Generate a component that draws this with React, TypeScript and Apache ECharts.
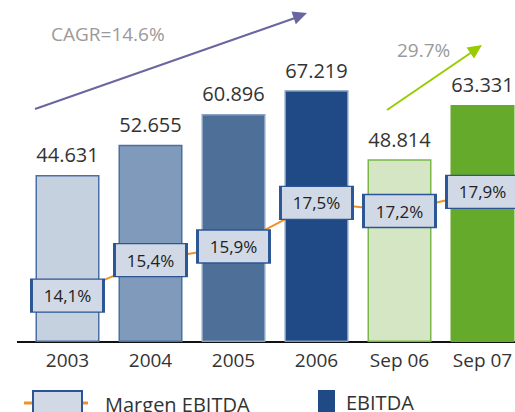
import React, { useEffect, useRef } from "react";
import * as echarts from "echarts";

const categories = ["2003", "2004", "2005", "2006", "Sep 06", "Sep 07"];
const ebitda = [44.631, 52.655, 60.896, 67.219, 48.814, 63.331];
const margen = [14.1, 15.4, 15.9, 17.5, 17.2, 17.9];
const cagrText = "CAGR=14.6%";
const growthText = "29.7%";

const barFills = ["#c6d1df", "#7f9aba", "#4e6f98", "#1f4a85", "#d4e6c3", "#66aa2c"];
const barBorders = ["#4a6fa5", "#4a6fa0", "#8aa3c2", "#7f9aba", "#7ab648", "#66aa2c"];

const FONT = "'Open Sans', 'Noto Sans', sans-serif";

export default function App() {
  const ref = useRef<HTMLDivElement>(null);
  useEffect(() => {
    if (!ref.current) return;
    const chart = echarts.init(ref.current, null, { renderer: "svg" });
    const orange = "#f0902a";
    const option: any = {
      animation: false,
      textStyle: { fontFamily: FONT },
      grid: { left: 26, width: 498, top: 20, bottom: 70, containLabel: false, outerBoundsMode: "none" },
      xAxis: {
        type: "category",
        data: categories,
        axisLine: { show: true, lineStyle: { color: "#111", width: 2 } },
        axisTick: { show: false },
        axisLabel: { color: "#333", fontSize: 19, margin: 8, fontFamily: FONT },
      },
      yAxis: [
        { type: "value", min: 0, max: 86, show: false },
        { type: "value", min: 12.4, max: 24.2, show: false },
      ],
      legend: [
        {
          left: 32,
          top: 390,
          padding: 0,
          itemWidth: 49,
          itemHeight: 26,
          data: [
            {
              name: "Margen EBITDA",
              icon: "rect",
              itemStyle: { color: "#d0d9e5", borderColor: "#2b5594", borderWidth: 2 },
            },
          ],
          textStyle: { fontSize: 20, color: "#333", fontFamily: FONT, padding: [0, 0, 0, 18] },
        },
        {
          left: 318,
          top: 390,
          padding: 0,
          itemWidth: 17,
          itemHeight: 24,
          data: [{ name: "EBITDA", icon: "rect" }],
          textStyle: { fontSize: 20, color: "#333", fontFamily: FONT, padding: [0, 0, 0, 6] },
        },
      ],
      series: [
        {
          name: "EBITDA",
          type: "bar",
          barWidth: 64,
          yAxisIndex: 0,
          itemStyle: { color: "#1f4a85" },
          data: ebitda.map((v, i) => ({
            value: v,
            itemStyle: { color: barFills[i], borderColor: barBorders[i], borderWidth: 1.5 },
          })),
          label: {
            show: true,
            position: "top",
            distance: 10,
            fontSize: 20,
            color: "#333",
            fontFamily: FONT,
            formatter: (p: any) => p.value.toFixed(3),
          },
        },
        {
          name: "Margen EBITDA",
          type: "line",
          yAxisIndex: 1,
          data: margen,
          symbol: "rect",
          symbolSize: [72, 33],
          lineStyle: { color: orange, width: 2 },
          itemStyle: { color: "#d0d9e5", borderColor: "#2b5594", borderWidth: 2 },
          label: {
            show: true,
            position: "inside",
            fontSize: 17,
            color: "#222",
            fontFamily: FONT,
            formatter: (p: any) => p.value.toFixed(1).replace(".", ",") + "%",
          },
          z: 3,
        },
      ],
      graphic: [
        { type: "line", shape: { x1: 17, y1: 342, x2: 27, y2: 342 }, style: { stroke: "#111", lineWidth: 2 } },
        { type: "line", shape: { x1: 24, y1: 403, x2: 32, y2: 403 }, style: { stroke: orange, lineWidth: 3 } },
        { type: "line", shape: { x1: 81, y1: 403, x2: 88, y2: 403 }, style: { stroke: orange, lineWidth: 3 } },
        {
          type: "text",
          x: 51,
          y: 24,
          style: { text: cagrText, fontSize: 19, fill: "#9a9a9a", fontFamily: FONT },
        },
        {
          type: "text",
          x: 397,
          y: 40,
          style: { text: growthText, fontSize: 19, fill: "#9a9a9a", fontFamily: FONT },
        },
        { type: "line", shape: { x1: 35, y1: 109, x2: 295, y2: 18 }, style: { stroke: "#6a66a0", lineWidth: 2 } },
        {
          type: "polygon",
          shape: { points: [[307, 13], [295.8, 24.3], [291.5, 11.5]] },
          style: { fill: "#6a66a0" },
        },
        { type: "line", shape: { x1: 387, y1: 110, x2: 472, y2: 52 }, style: { stroke: "#99cc00", lineWidth: 2 } },
        {
          type: "polygon",
          shape: { points: [[482, 45], [474, 58.5], [466.5, 47.5]] },
          style: { fill: "#99cc00" },
        },
      ],
    };
    chart.setOption(option);
    return () => chart.dispose();
  }, []);
  return <div ref={ref} style={{ width: 515, height: 412, position: "absolute", left: 0, top: 0 }} />;
}
